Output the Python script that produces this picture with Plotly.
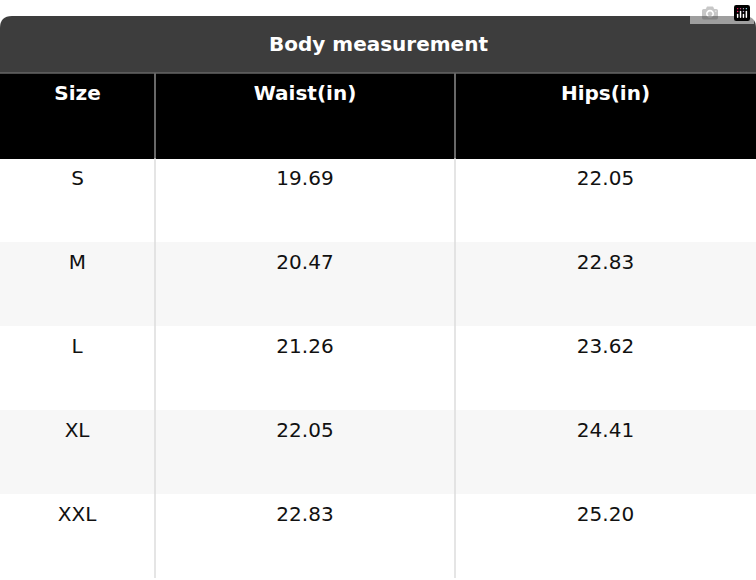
import plotly.graph_objects as go

title = "Body measurement"
columns = ["Size", "Waist(in)", "Hips(in)"]
sizes = ["S", "M", "L", "XL", "XXL"]
waist = ["19.69", "20.47", "21.26", "22.05", "22.83"]
hips = ["22.05", "22.83", "23.62", "24.41", "25.20"]

W, H = 756, 580
top, bottom = 73, 2
ph = H - top - bottom
row_fill = ["#ffffff", "#f7f7f7", "#ffffff", "#f7f7f7", "#ffffff"]


def vc(vals):
    return ["<br>" + v for v in vals]


fig = go.Figure(go.Table(
    columnwidth=[155, 300, 301],
    header=dict(values=vc([f"<b>{c}</b>" for c in columns]), fill_color="#000000",
                line=dict(color="#000000", width=1), height=85,
                font=dict(family="DejaVu Sans", size=20, color="white"), align="center"),
    cells=dict(values=[vc(sizes), vc(waist), vc(hips)], fill_color=[row_fill] * 3,
               line=dict(color=[row_fill] * 3, width=1), height=84,
               font=dict(family="DejaVu Sans", size=20, color="#111111"), align="center"),
    domain=dict(x=[0, 1], y=[0, 1]),
))

y0 = 1.0
y1 = 1 + 57 / ph
rx = 12 / W
ry = 12 / ph
path = (f"M 0 {y0} L 0 {y1 - ry} Q 0 {y1} {rx} {y1} L {1 - rx} {y1} "
        f"Q 1 {y1} 1 {y1 - ry} L 1 {y0} Z")
shapes = [dict(type="path", xref="paper", yref="paper", path=path,
               fillcolor="#3d3d3d", line=dict(width=0), layer="above")]
for xp in [155, 455]:
    shapes.append(dict(type="line", xref="paper", yref="paper", x0=xp / W, x1=xp / W,
                       y0=0, y1=1, line=dict(color="#dddddd", width=1.5), layer="above"))
    shapes.append(dict(type="line", xref="paper", yref="paper", x0=xp / W, x1=xp / W,
                       y0=1 - 85 / ph, y1=1, line=dict(color="#555555", width=1.5), layer="above"))
shapes.append(dict(type="line", xref="paper", yref="paper", x0=0, x1=1, y0=1, y1=1,
                   line=dict(color="#666666", width=1.5), layer="above"))

fig.update_layout(
    width=W, height=H, margin=dict(l=0, r=0, t=top, b=bottom),
    paper_bgcolor="white", shapes=shapes,
    annotations=[dict(text=f"<b>{title}</b>", xref="paper", yref="paper", x=0.5,
                      y=(y0 + y1) / 2, showarrow=False, xanchor="center", yanchor="middle",
                      font=dict(family="DejaVu Sans", size=20, color="white"))],
)
fig.write_html("out.html", post_script="document.body.style.margin='0';")
